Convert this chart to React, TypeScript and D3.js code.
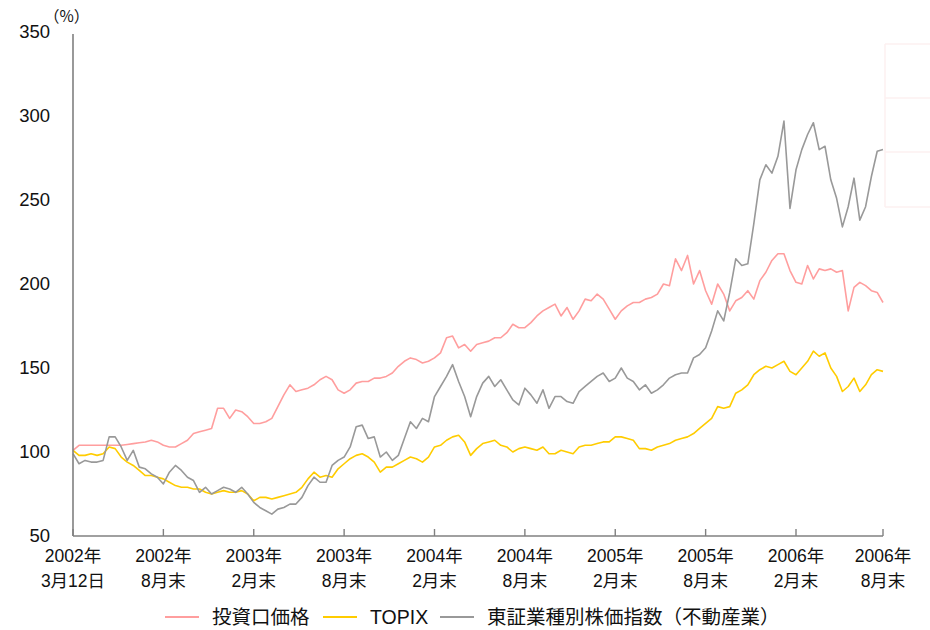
import React, { useEffect } from "react";
import * as d3 from "d3";

// x ticks (half-year points); the data below are sampled at even steps between them
const tickLabels = [
  ["2002年", "3月12日"],
  ["2002年", "8月末"],
  ["2003年", "2月末"],
  ["2003年", "8月末"],
  ["2004年", "2月末"],
  ["2004年", "8月末"],
  ["2005年", "2月末"],
  ["2005年", "8月末"],
  ["2006年", "2月末"],
  ["2006年", "8月末"],
];
const tickIndex = [0, 15, 30, 45, 60, 75, 90, 105, 120, 135];
const yTicks = [50, 100, 150, 200, 250, 300, 350];

const seriesNames = ["投資口価格", "TOPIX", "東証業種別株価指数（不動産業）"];

// 投資口価格
const unitPrice = [
  101, 104, 104, 104, 104, 104, 104, 104, 104, 104.5,
  105, 105.5, 106, 107, 106, 104, 103, 103, 105, 107,
  111, 112, 113, 114, 126, 126, 120, 125, 124, 121,
  117, 117, 118, 120, 127, 134, 140, 136, 137, 138,
  140, 143, 145, 143, 137, 135, 137, 141, 142, 142,
  144, 144, 145, 147, 151, 154, 156, 155, 153, 154,
  156, 159, 168, 169, 162, 164, 160, 164, 165, 166,
  168, 168, 171, 176, 174, 174, 177, 181, 184, 186,
  188, 181, 186, 179, 184, 191, 190, 194, 191, 185,
  179, 184, 187, 189, 189, 191, 192, 194, 200, 199,
  215, 208, 217, 200, 208, 196, 188, 200, 194, 184,
  190, 192, 196, 191, 202, 207, 214, 218, 218, 208,
  201, 200, 211, 203, 209, 208, 209, 207, 208, 184,
  198, 201, 199, 196, 195, 189,
];

// TOPIX
const topix = [
  101, 98, 98, 99, 98, 99, 103, 102, 97, 94,
  92, 89, 86, 86, 85, 84, 82, 80, 79, 79,
  78, 78, 76, 75, 76, 77, 76, 76, 77, 75,
  71, 73, 73, 72, 73, 74, 75, 76, 79, 84,
  88, 85, 86, 85, 90, 93, 96, 98, 99, 97,
  94, 88, 91, 91, 93, 95, 97, 96, 94, 97,
  103, 104, 107, 109, 110, 106, 98, 102, 105, 106,
  107, 104, 103, 100, 102, 103, 102, 101, 103, 99,
  99, 101, 100, 99, 103, 104, 104, 105, 106, 106,
  109, 109, 108, 107, 102, 102, 101, 103, 104, 105,
  107, 108, 109, 111, 114, 117, 120, 127, 126, 127,
  135, 137, 140, 146, 149, 151, 150, 152, 154, 148,
  146, 150, 154, 160, 157, 159, 150, 145, 136, 139,
  144, 136, 140, 146, 149, 148,
];

// 東証業種別株価指数(不動産業)
const realEstate = [
  99, 93, 95, 94, 94, 95, 109, 109, 103, 95,
  101, 91, 90, 87, 85, 81, 88, 92, 89, 85,
  83, 76, 79, 75, 77, 79, 78, 76, 79, 75,
  70, 67, 65, 63, 66, 67, 69, 69, 73, 80,
  85, 82, 82, 92, 95, 97, 103, 115, 116, 108,
  109, 97, 100, 95, 98, 108, 118, 114, 120, 118,
  133, 139, 145, 152, 142, 133, 121, 133, 141, 145,
  139, 143, 137, 131, 128, 138, 134, 129, 137, 126,
  133, 133, 130, 129, 136, 139, 142, 145, 147, 142,
  144, 150, 144, 142, 137, 140, 135, 137, 140, 144,
  146, 147, 147, 156, 158, 162, 172, 184, 178, 195,
  215, 211, 212, 236, 262, 271, 266, 276, 297, 245,
  268, 280, 289, 296, 280, 282, 262, 251, 234, 246,
  263, 238, 246, 264, 279, 280,
];

const colors = ["#ff9e9e", "#ffcc00", "#999999"];
const FONT = "'Liberation Sans', Arial, 'Noto Sans CJK JP', sans-serif";

export default function App() {
  useEffect(() => {
    document.body.style.margin = "0";
  }, []);

  const width = 930;
  const height = 630;
  const x = d3.scaleLinear().domain([0, 120, 135]).range([73, 796, 883]);
  const y = d3.scaleLinear().domain([50, 350]).range([536, 32]);

  const line = d3
    .line<number>()
    .x((d, i) => x(i))
    .y((d) => y(d));

  const series = [unitPrice, topix, realEstate];
  // legend: where each sample line starts
  const legendX = [165, 323, 440];

  return (
    <svg width={width} height={height} style={{ display: "block", background: "#fff" }} fontFamily={FONT}>
      {/* faint leftover box at top right */}
      <g stroke="#fdf0f0" strokeWidth={1.5} fill="none">
        <line x1={885} x2={930} y1={44} y2={44} />
        <line x1={885} x2={930} y1={98} y2={98} />
        <line x1={885} x2={930} y1={152} y2={152} />
        <line x1={885} x2={930} y1={207} y2={207} />
        <line x1={885} x2={885} y1={44} y2={207} />
      </g>

      {series.map((s, k) => (
        <path key={k} d={line(s) || ""} fill="none" stroke={colors[k]} strokeWidth={1.6} strokeLinejoin="round" />
      ))}

      {/* axes */}
      <line x1={73} x2={73} y1={y(350) + 2} y2={y(50)} stroke="#808080" strokeWidth={1.6} />
      <line x1={73} x2={x(135)} y1={y(50)} y2={y(50)} stroke="#808080" strokeWidth={1.6} />
      {tickIndex.map((t, i) => (
        <line key={i} x1={x(t)} x2={x(t)} y1={y(50)} y2={y(50) - 7} stroke="#808080" strokeWidth={1.4} />
      ))}

      {yTicks.map((v) => (
        <text key={v} x={50} y={y(v)} dy="0.35em" textAnchor="end" fontSize={18.5} fill="#111">
          {v}
        </text>
      ))}
      <text x={44} y={22} fontSize={15.5} fill="#111" fontFamily="'Noto Sans CJK JP', sans-serif">（%）</text>

      {tickIndex.map((t, i) => (
        <g key={i} fontSize={17.5} fill="#111" textAnchor="middle">
          <text x={x(t)} y={562}>{tickLabels[i][0]}</text>
          <text x={x(t)} y={587}>{tickLabels[i][1]}</text>
        </g>
      ))}

      {seriesNames.map((n, k) => (
        <g key={n}>
          <line x1={legendX[k]} x2={legendX[k] + 34} y1={617} y2={617} stroke={colors[k]} strokeWidth={1.8} />
          <text x={legendX[k] + 47} y={624} fontSize={19.5} fill="#111">{n}</text>
        </g>
      ))}
    </svg>
  );
}
